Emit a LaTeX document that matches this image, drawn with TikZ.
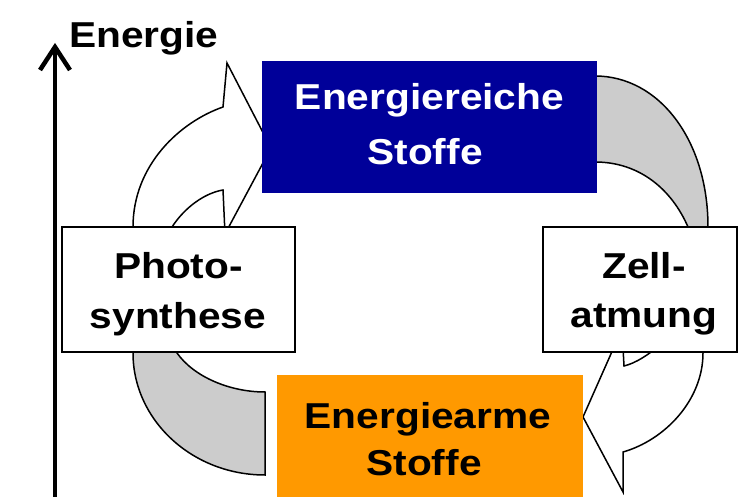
\documentclass[tikz,border=0pt]{standalone}
\usepackage{fontspec}
\setmainfont[FakeStretch=1.13]{Liberation Sans}
\definecolor{navybox}{RGB}{0,0,153}
\definecolor{orangebox}{RGB}{255,153,0}
\definecolor{bandgray}{RGB}{204,204,204}
\begin{document}
\begin{tikzpicture}[x=1pt,y=-1pt,
  lbl/.style={font=\fontsize{36}{40}\selectfont\bfseries, inner sep=0pt, anchor=base},
  bandg/.style={fill=bandgray, draw=black, line width=1.5pt},
  bandw/.style={fill=white, draw=black, line width=1.5pt},
  framebox/.style={draw=black, line width=2pt, fill=white, inner sep=0pt, outer sep=0pt},
  colbox/.style={inner sep=0pt, outer sep=0pt},
  axisline/.style={line width=4.5pt}
]
\useasboundingbox (0,0) rectangle (739,497);
\fill[white] (0,0) rectangle (739,497);

% gray back parts of the curved arrows
\draw[bandg] (595,76) .. controls (659,76) and (708,140) .. (708,227) -- (708,240) -- (693,240) -- (688,227)
  .. controls (672,190) and (640,162) .. (595,162) -- cycle;
\draw[bandg] (265,475) .. controls (192,475) and (133,420) .. (133,353) -- (133,340) -- (175,340) -- (177,353)
  .. controls (194,377) and (230,392) .. (265,392) -- cycle;

% white front parts with heads
\draw[bandw] (133,240) -- (133,227) .. controls (133,165) and (180,122) .. (223,107) -- (227,63) -- (271,148)
  -- (225,234) -- (223,190) .. controls (205,193) and (185,207) .. (172,227) -- (168,240) -- cycle;
\draw[bandw] (703,340) -- (703,353) .. controls (703,400) and (665,440) .. (623,452) -- (623,492) -- (583,417)
  -- (622,329) -- (624,366) .. controls (636,363) and (648,355) .. (660,345) -- (665,340) -- cycle;

% boxes
\node[colbox, fill=navybox, minimum width=335pt, minimum height=132pt] (rich) at (429.5,127) {};
\node[colbox, fill=orangebox, minimum width=306pt, minimum height=126pt] (poor) at (430,438) {};
\node[framebox, minimum width=233pt, minimum height=125pt] (photo) at (178.5,289.5) {};
\node[framebox, minimum width=194pt, minimum height=125pt] (zell) at (640,289.5) {};

% texts
\node[lbl, text=white] (rich1) at (429.5,110) {Energiereiche};
\node[lbl, text=white] (rich2) at (425,165) {Stoffe};
\node[lbl] (poor1) at (428,428) {Energiearme};
\node[lbl] (poor2) at (424,475) {Stoffe};
\node[lbl] (photo1) at (178.5,278) {Photo-};
\node[lbl] (photo2) at (178,328) {synthese};
\node[lbl] (zell1) at (644,278) {Zell-};
\node[lbl] (zell2) at (644,327) {atmung};
\node[lbl, anchor=base west] (elabel) at (69,48) {Energie};

% energy axis
\coordinate (axb) at (55,499);
\coordinate (axt) at (55,47);
\coordinate (axl) at (40,70);
\coordinate (axr) at (70,70);
\draw[axisline] (axb) -- (axt);
\draw[axisline, line join=miter] (axl) -- (axt) -- (axr);
\end{tikzpicture}
\end{document}
